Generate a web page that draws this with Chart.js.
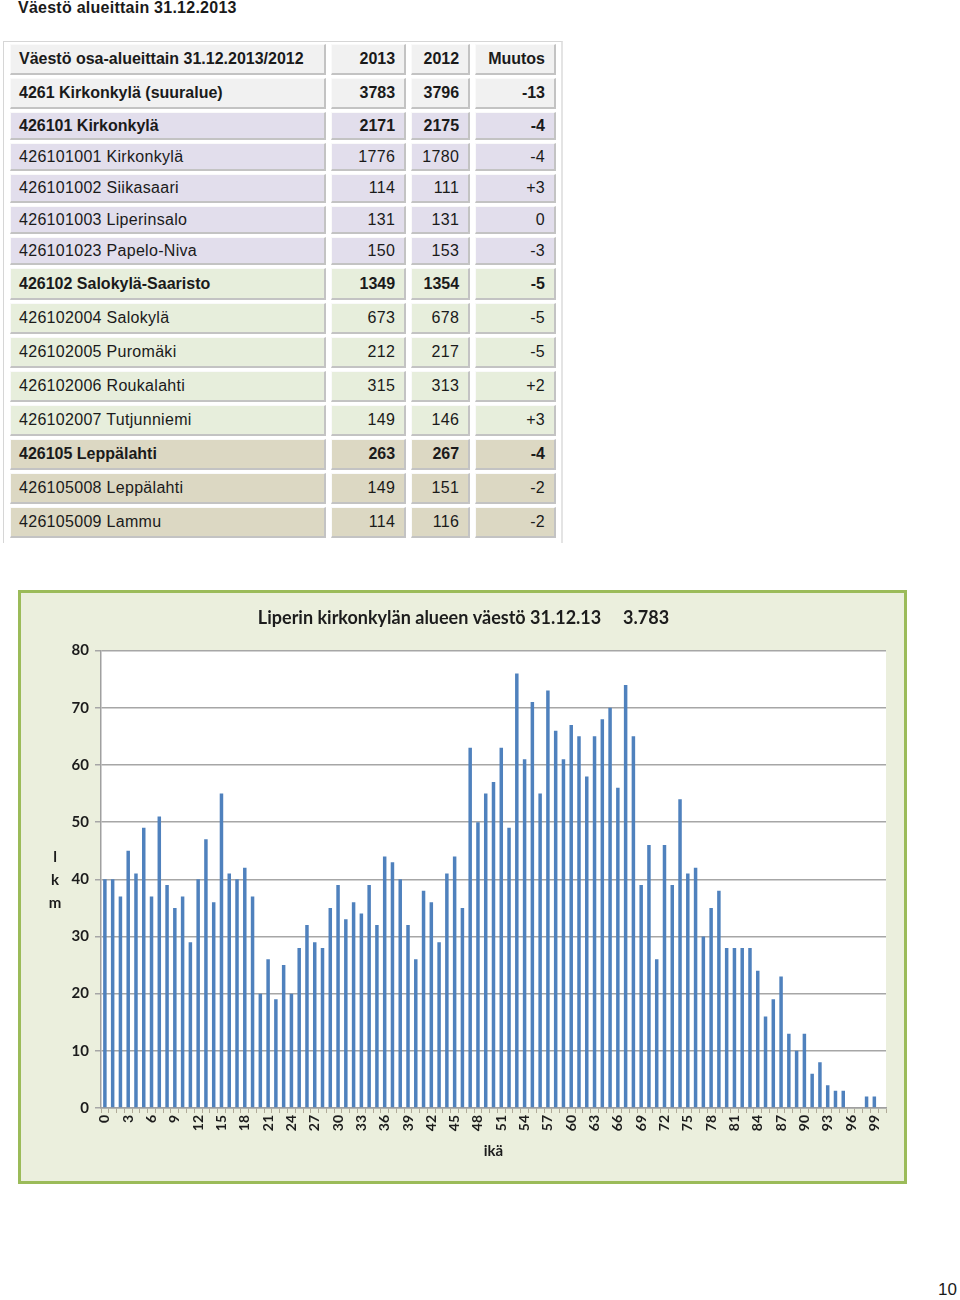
<!DOCTYPE html>
<html>
<head>
<meta charset="utf-8">
<script src="https://cdn.jsdelivr.net/npm/chart.js@4.4.1/dist/chart.umd.min.js"></script>
<style>
  html, body { margin:0; padding:0; background:#fff; }
  body { width:960px; height:1300px; position:relative; font-family:"Liberation Sans", Arial, sans-serif; color:#1a1a1a; overflow:hidden; }
  #pageTitle { position:absolute; left:18px; top:-1px; font-size:16px; line-height:18px; font-weight:bold; letter-spacing:0.25px; color:#1a1a1a; }
  #tableBox { position:absolute; left:3px; top:41px; width:560px; height:502px; box-sizing:border-box; border:1px solid #d6d6d6; border-right:2px solid #e4e4e4; border-bottom:none; }
  #popTable { position:absolute; left:1px; top:-1px; border-collapse:separate; border-spacing:5px 3px; table-layout:fixed; }
  #popTable td { box-sizing:border-box; padding:0 8px; font-size:16px; white-space:nowrap; vertical-align:middle; border-right:2px solid #c3c3c3; border-bottom:2px solid #c3c3c3; border-top:1px solid #fafafa; border-left:1px solid #fafafa; }
  #popTable td.num { text-align:right; padding-right:9px; }
  #popTable tr.b td { font-weight:bold; }
  #popTable tr.r td { letter-spacing:0.3px; }
  #popTable tr.g0 td { background:#f1f1f1; height:31px; }
  #popTable tr.g1 td { background:#e2deec; height:28px; }
  #popTable tr.g1.t td { height:29px; }
  #popTable tr.g2 td { background:#e7eedc; height:31px; }
  #popTable tr.g2.b td { height:32px; }
  #popTable tr.g3 td { background:#dcd8c3; height:31px; }
  #chartBox { position:absolute; left:18px; top:590px; width:889px; height:594px; box-sizing:border-box; border:3px solid #9bbb59; background:#ebefdd; }
  #chartBox canvas { display:block; }
  #pageNum { position:absolute; left:938px; top:1280px; font-size:17px; color:#1a1a1a; }
</style>
</head>
<body>
<div id="pageTitle">Väestö alueittain 31.12.2013</div>
<div id="tableBox"><table id="popTable"><colgroup><col style="width:316px"><col style="width:76px"><col style="width:59px"><col style="width:81px"></colgroup><tbody id="tb"></tbody></table></div>
<div id="chartBox"><canvas id="c" width="883" height="588"></canvas></div>
<div id="pageNum">10</div>
<script>
// ---------- table data ----------
const tableHeader = ["Väestö osa-alueittain 31.12.2013/2012", "2013", "2012", "Muutos"];
const areaNames = ["4261 Kirkonkylä (suuralue)", "426101 Kirkonkylä", "426101001 Kirkonkylä", "426101002 Siikasaari",
  "426101003 Liperinsalo", "426101023 Papelo-Niva", "426102 Salokylä-Saaristo", "426102004 Salokylä",
  "426102005 Puromäki", "426102006 Roukalahti", "426102007 Tutjunniemi", "426105 Leppälahti",
  "426105008 Leppälahti", "426105009 Lammu"];
const pop2013 = [3783, 2171, 1776, 114, 131, 150, 1349, 673, 212, 315, 149, 263, 149, 114];
const pop2012 = [3796, 2175, 1780, 111, 131, 153, 1354, 678, 217, 313, 146, 267, 151, 116];
const popChange = ["-13", "-4", "-4", "+3", "0", "-3", "-5", "-5", "-5", "+2", "+3", "-4", "-2", "-2"];
const rowGroup = [0, 1, 1, 1, 1, 1, 2, 2, 2, 2, 2, 3, 3, 3];
const rowBold = [true, true, false, false, false, false, true, false, false, false, false, true, false, false];

// ---------- chart data ----------
const ages = [0,1,2,3,4,5,6,7,8,9,10,11,12,13,14,15,16,17,18,19,20,21,22,23,24,25,26,27,28,29,
  30,31,32,33,34,35,36,37,38,39,40,41,42,43,44,45,46,47,48,49,50,51,52,53,54,55,56,57,58,59,
  60,61,62,63,64,65,66,67,68,69,70,71,72,73,74,75,76,77,78,79,80,81,82,83,84,85,86,87,88,89,
  90,91,92,93,94,95,96,97,98,99,100];
const population = [40,40,37,45,41,49,37,51,39,35, 37,29,40,47,36,55,41,40,42,37,
  20,26,19,25,20,28,32,29,28,35, 39,33,36,34,39,32,44,43,40,32,
  26,38,36,29,41,44,35,63,50,55, 57,63,49,76,61,71,55,73,66,61,
  67,65,58,65,68,70,56,74,65,39, 46,26,46,39,54,41,42,30,35,38,
  28,28,28,28,24,16,19,23,13,10, 13,6,8,4,3,3,0,0,2,2, 0];
const chartTitle = "Liperin kirkonkylän alueen väestö 31.12.13     3.783";
const yTitleLetters = ["l", "k", "m"];
const xTitle = "ikä";

// ---------- build table ----------
const tb = document.getElementById('tb');
function addRow(cells, cls) {
  const tr = document.createElement('tr');
  tr.className = cls;
  cells.forEach((t, i) => {
    const td = document.createElement('td');
    td.textContent = t;
    if (i > 0) td.className = 'num';
    tr.appendChild(td);
  });
  tb.appendChild(tr);
}
addRow(tableHeader, 'g0 b');
areaNames.forEach((n, i) => {
  let cls = 'g' + rowGroup[i] + (rowBold[i] ? ' b' : ' r');
  if (i === 3) cls += ' t';
  addRow([n, String(pop2013[i]), String(pop2012[i]), popChange[i]], cls);
});

// ---------- chart ----------
const FONT = "Lato, 'Open Sans', sans-serif";
const TXT = '#1c1c1c';
const plotBg = {
  id: 'plotBg',
  beforeDraw(chart) {
    const {ctx, chartArea: a} = chart;
    ctx.save();
    ctx.fillStyle = '#ffffff';
    ctx.fillRect(a.left, a.top, a.right - a.left, a.bottom - a.top);
    ctx.restore();
  },
  afterDraw(chart) {
    const {ctx, chartArea: a} = chart;
    ctx.save();
    ctx.font = "bold 15px " + FONT;
    ctx.fillStyle = TXT;
    ctx.textAlign = 'center';
    ctx.textBaseline = 'middle';
    const cy = (a.top + a.bottom) / 2;
    yTitleLetters.forEach((ch, i) => ctx.fillText(ch, 34, cy + (i - 1) * 23 + 1));
    ctx.restore();
  }
};

new Chart(document.getElementById('c'), {
  type: 'bar',
  data: {
    labels: ages,
    datasets: [{
      data: population,
      backgroundColor: '#4f81bd',
      borderWidth: 0,
      barPercentage: 0.45,
      categoryPercentage: 1.0
    }]
  },
  options: {
    responsive: false,
    animation: false,
    devicePixelRatio: 1,
    layout: { padding: { top: 4, left: 20, right: 18, bottom: 15 } },
    plugins: {
      legend: { display: false },
      tooltip: { enabled: false },
      title: {
        display: true,
        text: chartTitle,
        color: TXT,
        font: { family: FONT, size: 18, weight: 'bold' },
        padding: { top: 10, bottom: 22 }
      }
    },
    scales: {
      x: {
        grid: { display: true, drawOnChartArea: false, drawTicks: true, tickLength: 5, color: '#b0aa98', offset: true },
        border: { display: true, color: '#a0a0a0', width: 1.5 },
        ticks: {
          autoSkip: false, maxRotation: 90, minRotation: 90, padding: 2,
          color: TXT, font: { family: FONT, size: 14, weight: 'bold' },
          callback: function(v, i) { return i % 3 === 0 ? String(ages[i]) : ''; }
        },
        title: { display: true, text: xTitle, color: TXT, font: { family: FONT, size: 15, weight: 'bold' }, padding: { top: 4, bottom: 6 } },
        afterFit(s) { s.height = 58; }
      },
      y: {
        min: 0, max: 80,
        grid: { color: '#a6a6a6', lineWidth: 1.5, tickLength: 6, drawTicks: true },
        border: { display: true, color: '#a0a0a0', width: 1.5 },
        ticks: { stepSize: 10, padding: 6, color: TXT, font: { family: FONT, size: 15, weight: 'bold' } },
        afterFit(s) { s.width = 60; }
      }
    }
  },
  plugins: [plotBg]
});
</script>
</body>
</html>
